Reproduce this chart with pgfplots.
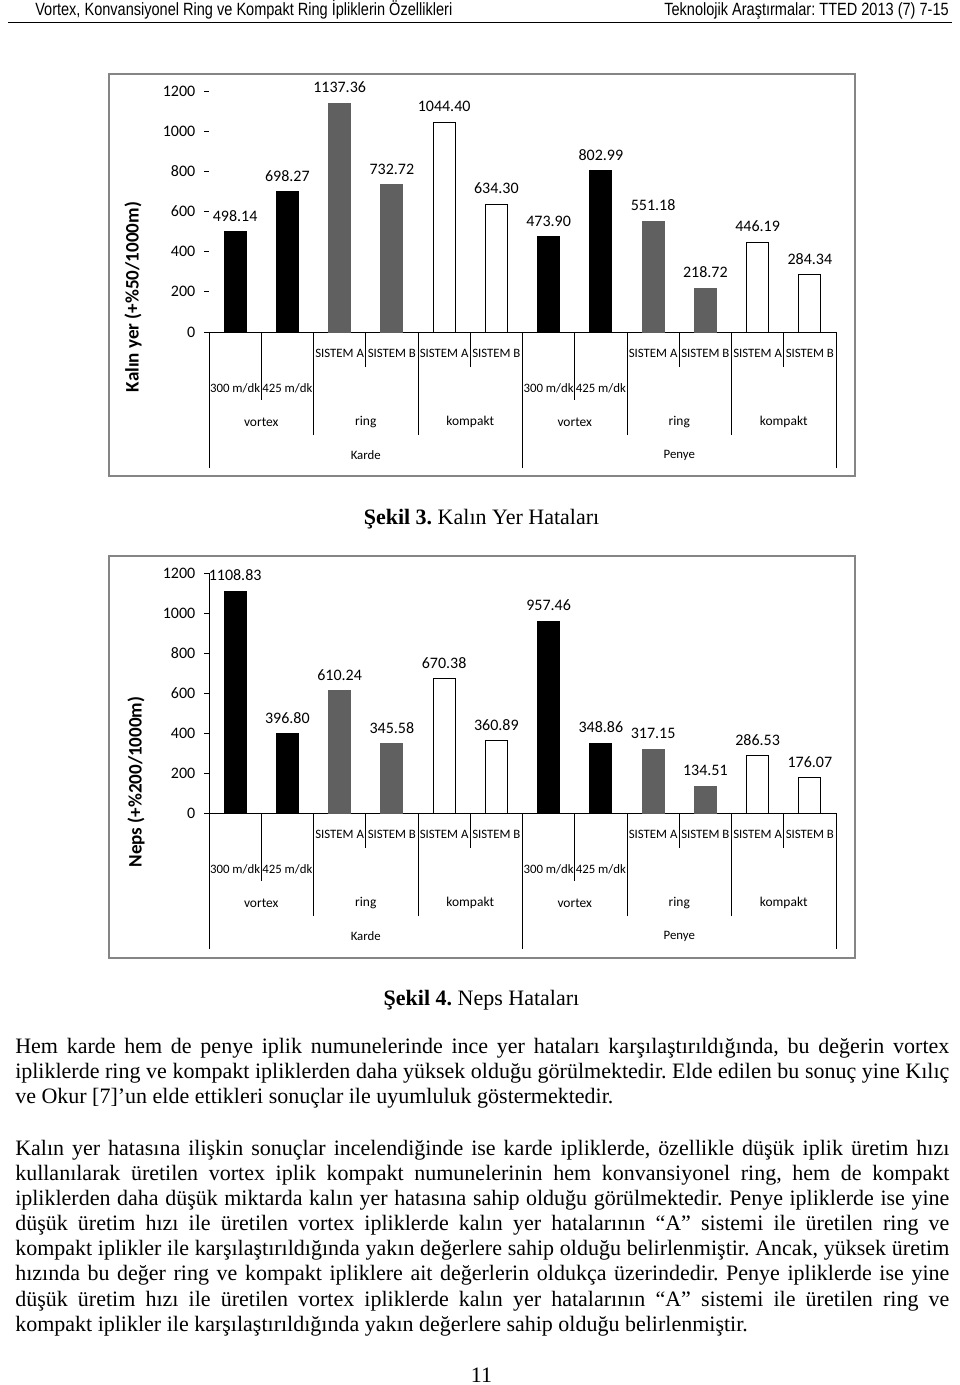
\documentclass[border=0pt]{standalone}
\usepackage{fontspec}
\setmainfont{Liberation Serif}
\newfontfamily\carlito{Carlito}
\newfontfamily\hdr[FakeStretch=0.82]{Liberation Sans}
\usepackage{pgfplots}
\pgfplotsset{compat=1.18}
\definecolor{bargray}{HTML}{606060}
\definecolor{framegray}{HTML}{858585}
\frenchspacing
\newcommand{\body}{\fontsize{16.5}{20}\selectfont}
\newcommand{\catf}{\carlito\fontsize{9.6}{11}\selectfont}
\newcommand{\grpf}{\carlito\fontsize{10.1}{12}\selectfont}
\newcommand{\valf}{\carlito\fontsize{12}{14}\selectfont}
\pgfplotsset{
  mychart/.style={
    anchor=south west, scale only axis, width=470.25pt,
    xmin=-0.5, xmax=11.5, ymin=0, ymax=1200,
    axis x line*=bottom, axis y line*=left,
    xtick=\empty, ytick={0,200,...,1200},
    tick align=outside, major tick length=3.75pt,
    tick style={black, line width=0.75pt},
    axis line style={black, line width=0.75pt},
    yticklabel style={font=\valf, xshift=-3pt},
    /pgf/number format/assume math mode=true,
    /pgf/number format/1000 sep={},
    clip=false,
    ylabel style={font=\carlito\bfseries\fontsize{14.3}{16}\selectfont, anchor=center},
  },
  mybar/.style={ybar, bar width=16.5pt, bar shift=0pt, line width=0.75pt,
    point meta=explicit symbolic, nodes near coords,
    every node near coord/.append style={font=\valf, anchor=south, inner sep=0pt, yshift=7.5pt, black}},
}
\newcommand{\vl}[2]{\draw[line width=0.75pt] (axis cs:#1,0) -- ++(0pt,-#2);}
\newcommand{\cl}[3]{\node[font=\catf, inner sep=0pt] at ([yshift=-#2]axis cs:#1,0) {#3};}
\newcommand{\gl}[3]{\node[font=\grpf, inner sep=0pt] at ([yshift=-#2]axis cs:#1,0) {#3};}
\newcommand{\categories}{%
  \vl{0.5}{51pt}\vl{6.5}{51pt}
  \vl{2.5}{26.25pt}\vl{4.5}{26.25pt}\vl{8.5}{26.25pt}\vl{10.5}{26.25pt}
  \vl{1.5}{77.25pt}\vl{3.5}{77.25pt}\vl{7.5}{77.25pt}\vl{9.5}{77.25pt}
  \vl{-0.5}{102pt}\vl{5.5}{102pt}\vl{11.5}{102pt}
  \cl{2}{15.75pt}{SISTEM A}\cl{3}{15.75pt}{SISTEM B}\cl{4}{15.75pt}{SISTEM A}\cl{5}{15.75pt}{SISTEM B}
  \cl{8}{15.75pt}{SISTEM A}\cl{9}{15.75pt}{SISTEM B}\cl{10}{15.75pt}{SISTEM A}\cl{11}{15.75pt}{SISTEM B}
  \cl{0}{42pt}{300 m/dk}\cl{1}{42pt}{425 m/dk}\cl{6}{42pt}{300 m/dk}\cl{7}{42pt}{425 m/dk}
  \gl{0.5}{67.5pt}{vortex}\gl{2.5}{67.5pt}{ring}\gl{4.5}{67.5pt}{kompakt}
  \gl{6.5}{67.5pt}{vortex}\gl{8.5}{67.5pt}{ring}\gl{10.5}{67.5pt}{kompakt}
  \cl{2.5}{92.25pt}{Karde}\cl{8.5}{92.25pt}{Penye}
}
\begin{document}
\begin{tikzpicture}
\useasboundingbox (0,0) rectangle (720pt,-1038.75pt);
\begin{scope}[x=0.75pt,y=-0.75pt]
  % header
  \node[anchor=base west, inner sep=0pt, font=\hdr\fontsize{13.3}{15}\selectfont] at (35,15.5) {Vortex, Konvansiyonel Ring ve Kompakt Ring İpliklerin Özellikleri};
  \node[anchor=base east, inner sep=0pt, font=\hdr\fontsize{13.3}{15}\selectfont] at (949,15.5) {Teknolojik Araştırmalar: TTED 2013 (7) 7-15};
  \draw[line width=0.75pt] (8,22) -- (952,22);
  % frames
  \draw[framegray, line width=0.9pt] (109,74) rectangle (855,476);
  \draw[framegray, line width=0.9pt] (109,556) rectangle (855,958);
  % captions
  \node[anchor=base, inner sep=0pt, font=\body] at (481.5,524) {\textbf{Şekil 3.} Kalın Yer Hataları};
  \node[anchor=base, inner sep=0pt, font=\body] at (481.5,1005) {\textbf{Şekil 4.} Neps Hataları};
  % body text
  \node[anchor=base west, inner sep=0pt, font=\body] at (15,1053) {\makebox[700.5pt][s]{Hem karde hem de penye iplik numunelerinde ince yer hataları karşılaştırıldığında, bu değerin vortex}};
  \node[anchor=base west, inner sep=0pt, font=\body] at (15,1078) {\makebox[700.5pt][s]{ipliklerde ring ve kompakt ipliklerden daha yüksek olduğu görülmektedir. Elde edilen bu sonuç yine Kılıç}};
  \node[anchor=base west, inner sep=0pt, font=\body] at (15,1103) {ve Okur [7]’un elde ettikleri sonuçlar ile uyumluluk göstermektedir.};
  \node[anchor=base west, inner sep=0pt, font=\body] at (15,1155) {\makebox[700.5pt][s]{Kalın yer hatasına ilişkin sonuçlar incelendiğinde ise karde ipliklerde, özellikle düşük iplik üretim hızı}};
  \node[anchor=base west, inner sep=0pt, font=\body] at (15,1180) {\makebox[700.5pt][s]{kullanılarak üretilen vortex iplik kompakt numunelerinin hem konvansiyonel ring, hem de kompakt}};
  \node[anchor=base west, inner sep=0pt, font=\body] at (15,1205) {\makebox[700.5pt][s]{ipliklerden daha düşük miktarda kalın yer hatasına sahip olduğu görülmektedir. Penye ipliklerde ise yine}};
  \node[anchor=base west, inner sep=0pt, font=\body] at (15,1230) {\makebox[700.5pt][s]{düşük üretim hızı ile üretilen vortex ipliklerde kalın yer hatalarının “A” sistemi ile üretilen ring ve}};
  \node[anchor=base west, inner sep=0pt, font=\body] at (15,1255) {\makebox[700.5pt][s]{kompakt iplikler ile karşılaştırıldığında yakın değerlere sahip olduğu belirlenmiştir. Ancak, yüksek üretim}};
  \node[anchor=base west, inner sep=0pt, font=\body] at (15,1280) {\makebox[700.5pt][s]{hızında bu değer ring ve kompakt ipliklere ait değerlerin oldukça üzerindedir. Penye ipliklerde ise yine}};
  \node[anchor=base west, inner sep=0pt, font=\body] at (15,1306) {\makebox[700.5pt][s]{düşük üretim hızı ile üretilen vortex ipliklerde kalın yer hatalarının “A” sistemi ile üretilen ring ve}};
  \node[anchor=base west, inner sep=0pt, font=\body] at (15,1331) {kompakt iplikler ile karşılaştırıldığında yakın değerlere sahip olduğu belirlenmiştir.};
  \node[anchor=base, inner sep=0pt, font=\body] at (481.5,1382) {11};
\end{scope}

% ---------- Chart 1 ----------
\begin{axis}[mychart, at={(156.75pt,-249pt)}, height=180.75pt,
  y axis line style={draw=none},
  ylabel={Kalın yer (+\%50/1000m)},
  ylabel style={at={(axis description cs:-0.1212,0.145)}}]
\addplot[mybar, fill=black, draw=black] coordinates {
  (0,498.14) [498.14] (1,698.27) [698.27] (6,473.90) [473.90] (7,802.99) [802.99]};
\addplot[mybar, fill=bargray, draw=bargray] coordinates {
  (2,1137.36) [1137.36] (3,732.72) [732.72] (8,551.18) [551.18] (9,218.72) [218.72]};
\addplot[mybar, fill=white, draw=black] coordinates {
  (4,1044.40) [1044.40] (5,634.30) [634.30] (10,446.19) [446.19] (11,284.34) [284.34]};
\categories
\end{axis}

% ---------- Chart 2 ----------
\begin{axis}[mychart, at={(156.75pt,-609.75pt)}, height=180pt,
  ylabel={Neps (+\%200/1000m)},
  ylabel style={at={(axis description cs:-0.1164,0.129)}}]
\addplot[mybar, fill=black, draw=black] coordinates {
  (0,1108.83) [1108.83] (1,396.80) [396.80] (6,957.46) [957.46] (7,348.86) [348.86]};
\addplot[mybar, fill=bargray, draw=bargray] coordinates {
  (2,610.24) [610.24] (3,345.58) [345.58] (8,317.15) [317.15] (9,134.51) [134.51]};
\addplot[mybar, fill=white, draw=black] coordinates {
  (4,670.38) [670.38] (5,360.89) [360.89] (10,286.53) [286.53] (11,176.07) [176.07]};
\categories
\end{axis}
\end{tikzpicture}
\end{document}
